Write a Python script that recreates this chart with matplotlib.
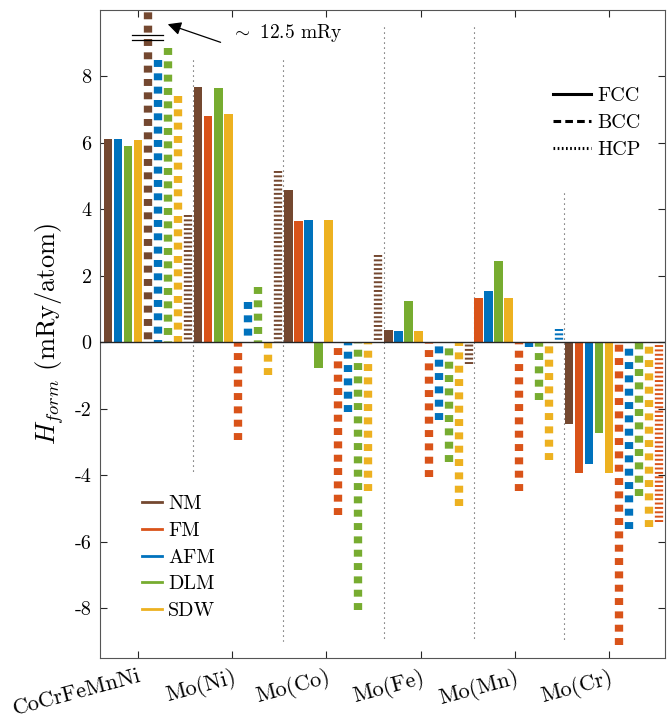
import numpy as np
import matplotlib
matplotlib.use("Agg")
import matplotlib.pyplot as plt
from matplotlib.lines import Line2D

plt.rcParams['font.family'] = 'cmr10'
plt.rcParams['mathtext.fontset'] = 'cm'
plt.rcParams['axes.formatter.use_mathtext'] = True
plt.rcParams['axes.unicode_minus'] = False
plt.rcParams['lines.scale_dashes'] = False

nan = np.nan
groups = ['CoCrFeMnNi', 'Mo(Ni)', 'Mo(Co)', 'Mo(Fe)', 'Mo(Mn)', 'Mo(Cr)']
states = ['NM', 'FM', 'AFM', 'DLM', 'SDW']
structures = ['FCC', 'BCC', 'HCP']

# FCC formation enthalpies (mRy/atom), one value per group
fcc_NM  = [6.11, 7.68, 4.58, 0.36, nan, -2.45]
fcc_FM  = [nan, 6.82, 3.64, nan, 1.32, -3.93]
fcc_AFM = [6.11, nan, 3.68, 0.35, 1.55, -3.65]
fcc_DLM = [5.90, 7.64, -0.76, 1.23, 2.45, -2.72]
fcc_SDW = [6.08, 6.86, 3.67, 0.35, 1.32, -3.93]
# BCC
bcc_NM  = [12.5, nan, nan, nan, nan, nan]
bcc_FM  = [nan, -2.93, -5.20, -4.04, -4.46, -9.10]
bcc_AFM = [8.51, 1.21, -2.10, -2.35, -0.14, -5.61]
bcc_DLM = [8.85, 1.67, -8.07, -3.60, -1.75, -4.61]
bcc_SDW = [7.42, -0.98, -4.48, -4.93, -3.53, -5.56]
# HCP
hcp_NM  = [3.83, 5.16, 2.62, -0.64, nan, nan]
hcp_FM  = [nan, nan, nan, nan, nan, -5.41]
hcp_AFM = [nan, nan, nan, nan, 0.39, nan]
hcp_DLM = [nan, nan, nan, nan, nan, nan]
hcp_SDW = [nan, nan, nan, nan, nan, nan]

data = {
    'FCC': [fcc_NM, fcc_FM, fcc_AFM, fcc_DLM, fcc_SDW],
    'BCC': [bcc_NM, bcc_FM, bcc_AFM, bcc_DLM, bcc_SDW],
    'HCP': [hcp_NM, hcp_FM, hcp_AFM, hcp_DLM, hcp_SDW],
}

tick_pos = [3.0, 12.4, 21.8, 31.2, 40.6, 50.0]
yticks = [-8, -6, -4, -2, 0, 2, 4, 6, 8]
sep_top = [8.5, 8.5, 9.5, 9.5, 4.5]
sep_bot = [-4.0, -9.0, -9.0, -9.0, -9.0]

colors = {'NM': '#744830', 'FM': '#D95319', 'AFM': '#0072BD',
          'DLM': '#77AC30', 'SDW': '#EDB120'}

fig = plt.figure(figsize=(6.71, 7.18), dpi=100)
ax = fig.add_axes([100/671, 1-658/718, 565/671, 648/718])

lw_bar = 6.0  # points
idx = 0
boundaries = []
for g in range(len(groups)):
    for s in structures:
        for k, st in enumerate(states):
            v = data[s][k][g]
            if np.isnan(v):
                continue
            c = colors[st]
            if s == 'FCC':
                ax.bar(idx, v, width=0.86, color=c, edgecolor='none', zorder=2)
            else:
                ln, = ax.plot([idx, idx], [v, 0], color=c, lw=lw_bar,
                              solid_capstyle='butt', dash_capstyle='butt', zorder=2)
                if s == 'BCC':
                    ln.set_dashes((5.0, 4.6))
                else:
                    ln.set_dashes((1.4, 1.75))
            idx += 1
    boundaries.append(idx - 0.5)

for b, t, bo in zip(boundaries[:-1], sep_top, sep_bot):
    l, = ax.plot([b, b], [t, bo], color='#444444', lw=0.8, zorder=1)
    l.set_dashes((0.8, 2.8))

ax.axhline(0, color='#262626', lw=1.0, zorder=3)

ax.set_xlim(-0.8, 55.6)
ax.set_ylim(-9.5, 10)
ax.set_xticks(tick_pos)
ax.set_xticklabels(groups, rotation=15, ha='right', va='top',
                   rotation_mode='anchor', fontsize=16)
ax.set_yticks(yticks)
ax.set_yticklabels([str(t) for t in yticks], fontsize=14.5)
ax.tick_params(direction='in', length=5, width=0.8, color='#262626',
               top=True, right=True, pad=6)
ax.tick_params(axis='x', pad=6)
for sp in ax.spines.values():
    sp.set_color('#555555')
    sp.set_linewidth(0.8)

ax.set_ylabel(r'$H_{form}$ (mRy/atom)', fontsize=19, labelpad=6)

# broken-axis marks and annotation
ax.plot([2.36, 5.52], [9.25, 9.25], color='k', lw=0.9, zorder=4)
ax.plot([2.36, 5.52], [9.10, 9.10], color='k', lw=0.9, zorder=4)
ax.annotate('', xy=(5.7, 9.6), xytext=(11.5, 9.0),
            arrowprops=dict(arrowstyle='-|>', mutation_scale=20, lw=0.9, color='k'))
ax.text(12.3, 9.3, r'$\sim$ 12.5 mRy', fontsize=14, va='center', ha='left')

# legends
h1 = [Line2D([0], [0], color=colors[s], lw=2) for s in states]
leg1 = ax.legend(h1, states, loc='upper left', bbox_to_anchor=(0.074, 0.251),
                 frameon=False, fontsize=14.5, handlelength=1.0, handletextpad=0.3,
                 labelspacing=0.42, borderpad=0, borderaxespad=0)
ax.add_artist(leg1)
h2 = [Line2D([0], [0], color='k', lw=2.2, ls='-'),
      Line2D([0], [0], color='k', lw=2.2, dashes=(5.5, 3)),
      Line2D([0], [0], color='k', lw=2.2, dashes=(1.2, 1.8))]
ax.legend(h2, structures, loc='upper left', bbox_to_anchor=(0.802, 0.882),
          frameon=False, fontsize=14.5, handlelength=1.9, handletextpad=0.3,
          labelspacing=0.45, borderpad=0, borderaxespad=0)

fig.savefig('out.png', dpi=100)
